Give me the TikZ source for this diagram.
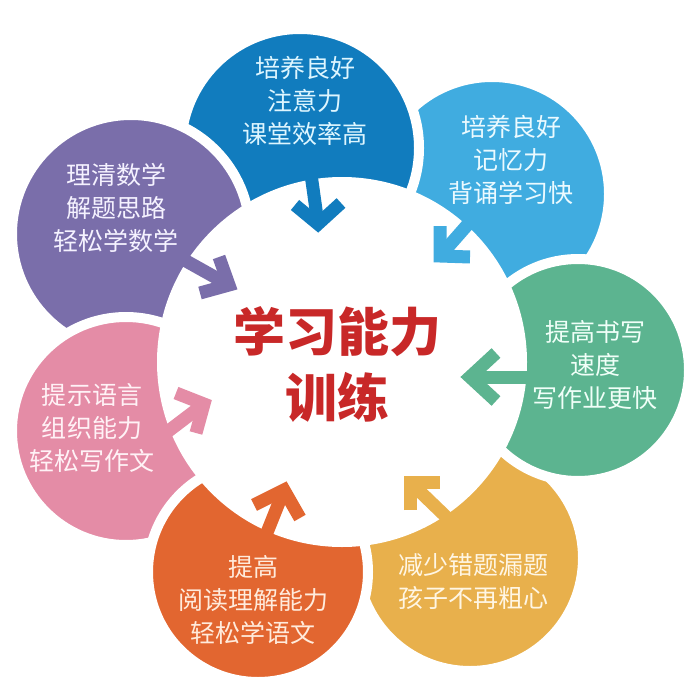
\documentclass[tikz,border=0pt]{standalone}
\usepackage{fontspec}
\setmainfont{Noto Sans CJK SC}
\definecolor{cBlue}{RGB}{17,124,190}
\definecolor{cLBlue}{RGB}{64,172,224}
\definecolor{cGreen}{RGB}{92,180,144}
\definecolor{cYellow}{RGB}{232,176,76}
\definecolor{cOrange}{RGB}{226,102,48}
\definecolor{cPink}{RGB}{228,140,166}
\definecolor{cPurple}{RGB}{122,110,170}
\definecolor{cRed}{RGB}{200,40,40}
\begin{document}
\begin{tikzpicture}[x=1pt,y=-1pt,
  petal/.style={circle, draw=white, line width=10pt, inner sep=0pt},
  petaltext/.style={align=center, font=\fontsize{25}{33}\selectfont},
  arrowline/.style={line width=13pt, line cap=butt, line join=miter}]
\useasboundingbox (0,0) rectangle (690,693);
\fill[white] (0,0) rectangle (690,693);
% petals (drawing order matters)
\node[petal, fill=cLBlue,  minimum size=234pt] (pLBlue)  at (492,194) {};
\node[petal, fill=cYellow, minimum size=226pt] (pYellow) at (470,558) {};
\node[petal, fill=cBlue,   minimum size=238pt] (pBlue)   at (300,148) {};
\node[petal, fill=cGreen,  minimum size=222pt] (pGreen)  at (578,370) {};
\node[petal, fill=cPurple, minimum size=238pt] (pPurple) at (131,234) {};
\node[petal, fill=cPink,   minimum size=228pt] (pPink)   at (126,431) {};
\node[petal, fill=cOrange, minimum size=220pt] (pOrange) at (258,572) {};
% central disk
\node[circle, fill=white, minimum size=370pt, inner sep=0pt] (core) at (342,362) {};
% arrows: start, tip, wings
\coordinate (bS) at (309,160); \coordinate (bT) at (318,224);
\coordinate (bW1) at (295,205); \coordinate (bW2) at (341,203);
\coordinate (lS) at (484,206); \coordinate (lT) at (440,256);
\coordinate (lW1) at (440,226); \coordinate (lW2) at (470,257);
\coordinate (gS) at (545,377); \coordinate (gT) at (470,377);
\coordinate (gW1) at (496,353); \coordinate (gW2) at (496,401);
\coordinate (yS) at (465,535); \coordinate (yT) at (410,482);
\coordinate (yW1) at (410,510); \coordinate (yW2) at (440,482);
\coordinate (oS) at (260,550); \coordinate (oT) at (284,490);
\coordinate (oW1) at (254,505); \coordinate (oW2) at (300,518);
\coordinate (kS) at (150,445); \coordinate (kT) at (204,404);
\coordinate (kW1) at (176,393); \coordinate (kW2) at (196,433);
\coordinate (uS) at (170,252); \coordinate (uT) at (229,285);
\coordinate (uW1) at (219,257); \coordinate (uW2) at (200,293);
\draw[arrowline, cBlue] (bS) -- (bT); \draw[arrowline, cBlue] (bW1) -- (bT) -- (bW2);
\draw[arrowline, cLBlue] (lS) -- (lT); \draw[arrowline, cLBlue] (lW1) -- (lT) -- (lW2);
\draw[arrowline, cGreen] (gS) -- (gT); \draw[arrowline, cGreen] (gW1) -- (gT) -- (gW2);
\draw[arrowline, cYellow] (yS) -- (yT); \draw[arrowline, cYellow] (yW1) -- (yT) -- (yW2);
\draw[arrowline, cOrange] (oS) -- (oT); \draw[arrowline, cOrange] (oW1) -- (oT) -- (oW2);
\draw[arrowline, cPink] (kS) -- (kT); \draw[arrowline, cPink] (kW1) -- (kT) -- (kW2);
\draw[arrowline, cPurple] (uS) -- (uT); \draw[arrowline, cPurple] (uW1) -- (uT) -- (uW2);
% texts
\node[petaltext, text={rgb,255:red,222;green,246;blue,255}] (tBlue) at (305,101) {培养良好\\注意力\\课堂效率高};
\node[petaltext, text={rgb,255:red,235;green,250;blue,255}] (tLBlue) at (511,160) {培养良好\\记忆力\\背诵学习快};
\node[petaltext, text={rgb,255:red,240;green,255;blue,248}] (tGreen) at (595,365) {提高书写\\速度\\写作业更快};
\node[petaltext, text={rgb,255:red,255;green,246;blue,228}] (tYellow) at (473,582) {减少错题漏题\\孩子不再粗心};
\node[petaltext, text={rgb,255:red,255;green,235;blue,220}] (tOrange) at (253,600) {提高\\阅读理解能力\\轻松学语文};
\node[petaltext, text={rgb,255:red,255;green,242;blue,246}] (tPink) at (92,428) {提示语言\\组织能力\\轻松写作文};
\node[petaltext, text={rgb,255:red,245;green,242;blue,255}] (tPurple) at (116,208) {理清数学\\解题思路\\轻松学数学};
\node[align=center, text=cRed, font=\fontsize{52}{66}\selectfont\bfseries] (title) at (337,365) {学习能力\\训练};
\end{tikzpicture}
\end{document}
